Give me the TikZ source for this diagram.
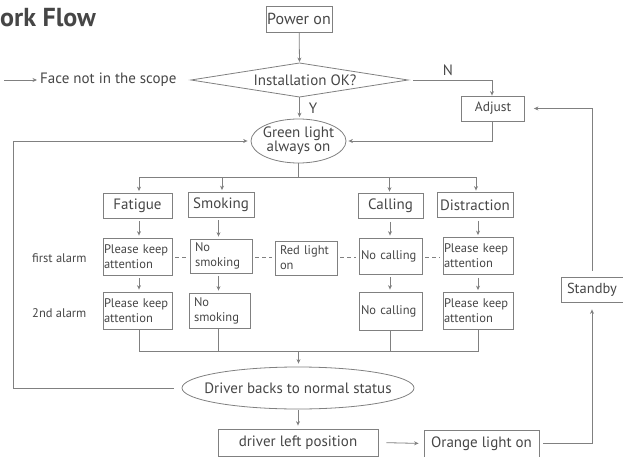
\documentclass[tikz,border=0pt]{standalone}
\usepackage{fontspec}
\setmainfont{PT Sans}
\usetikzlibrary{arrows.meta,shapes.geometric}
\definecolor{ln}{RGB}{128,128,128}
\definecolor{tx}{RGB}{70,70,70}
\newcommand\myfs[2]{\fontsize{#1}{#2}\selectfont}
\newcommand\nowid[1]{\makebox[0pt][c]{#1}}
\begin{document}
\begin{tikzpicture}[x=1pt,y=-1pt,
  every node/.style={text=tx},
  wire/.style={draw=ln,line width=0.8pt},
  arr/.style={wire,-{Stealth[length=4.5pt,width=4pt]}},
  dsh/.style={wire,dash pattern=on 4pt off 3pt,shorten <=3pt,shorten >=3pt},
  cat/.style={draw=ln,line width=0.8pt,minimum height=25pt,inner sep=0pt,font=\myfs{15}{17}},
  alm/.style={draw=ln,line width=0.8pt,align=left,minimum height=37pt,inner ysep=0pt,font=\myfs{12.5}{15}},
  ell/.style={draw=ln,line width=0.8pt,ellipse,inner sep=0pt},
  lbl/.style={font=\myfs{15}{16}},
  sml/.style={font=\myfs{12.5}{14}}]
\useasboundingbox (0,0) rectangle (623,457);

% title
\node[anchor=base west,inner sep=0pt,font=\bfseries\myfs{26}{28}] (title) at (0,27) {ork Flow};

% top part
\node[cat,font=\myfs{16}{18},minimum width=66pt,minimum height=26pt] (power) at (299,19) {Power on};
\coordinate (dt) at (299.5,63);
\coordinate (dr) at (408,80);
\coordinate (db) at (299.5,97);
\coordinate (dl) at (191,80);
\draw[wire] (dl) -- (dt) -- (dr) -- (db) -- cycle;
\node[lbl] (dia) at (305,80) {Installation OK?};
\draw[arr,shorten >=1pt] (power) -- (dt);

\coordinate (fa) at (4,80);
\node[lbl,anchor=west,inner sep=0pt] (face) at (40,80) {Face not in the scope};
\draw[arr,shorten >=3pt] (fa) -- (face.west);

\node[cat,font=\myfs{13.5}{15},minimum width=63pt] (adjust) at (493,108.5) {Adjust};
\coordinate (nc) at (492,80);
\draw[arr,shorten <=5pt] (dr) -- (nc) -- (adjust.north -| nc);
\node[lbl] (nlab) at (448,70) {N};

\node[ell,font=\myfs{15}{16},minimum width=95pt,minimum height=44pt] (green) at (298.5,141)
  {\nowid{\begin{tabular}{@{}c@{}}Green light\\[-2pt]always on\end{tabular}}};
\draw[arr,shorten >=1.5pt] (db) -- (green.north -| db);
\node[lbl] (ylab) at (313,108) {Y};
\draw[arr,shorten >=2pt] (adjust.south -| nc) |- (green.east);

% categories
\coordinate (br) at (298.5,177.5);
\draw[wire] (green.south) -- (br);
\node[cat,minimum width=69pt] (fat) at (137.5,205.5) {Fatigue};
\node[cat,minimum width=66pt] (smk) at (221,204.5) {Smoking};
\node[cat,minimum width=65pt] (cal) at (390.5,206) {Calling};
\node[cat,minimum width=76pt] (dis) at (475,205) {Distraction};
\coordinate (b1) at (139,177.5);
\coordinate (b2) at (222,177.5);
\coordinate (b3) at (389.5,177.5);
\coordinate (b4) at (476,177.5);
\draw[wire] (b1) -- (b4);
\draw[arr,shorten >=1.5pt] (b1) -- (b1 |- fat.north);
\draw[arr,shorten >=1.5pt] (b2) -- (b2 |- smk.north);
\draw[arr,shorten >=1.5pt] (b3) -- (b3 |- cal.north);
\draw[arr,shorten >=1.5pt] (b4) -- (b4 |- dis.north);

% first alarm row
\node[sml,anchor=west,inner sep=0pt] (fa1) at (32,258) {first alarm};
\node[alm,text width=67pt,inner xsep=1pt] (pk1) at (137.5,256.5) {Please keep\\attention};
\node[alm,text width=52pt,inner xsep=5pt,minimum height=34pt] (ns1) at (221,256) {No\\smoking};
\node[alm,text width=52pt,inner xsep=5pt,minimum height=34pt] (red) at (306,258) {Red light\\on};
\node[alm,text width=59pt,inner xsep=2pt,minimum height=36pt] (nc1) at (390.5,256) {No calling};
\node[alm,text width=68pt,inner xsep=1pt] (pk4) at (478,256) {Please keep\\attention};

% second alarm row
\node[sml,anchor=west,inner sep=0pt] (sa) at (32,313) {2nd alarm};
\node[alm,text width=67pt,inner xsep=1pt] (pk2) at (137.5,310.5) {Please keep\\attention};
\node[alm,text width=51pt,inner xsep=5pt,minimum height=35pt] (ns2) at (219.5,310.5) {No\\smoking};
\node[alm,text width=59pt,inner xsep=2pt,minimum height=38pt] (nc2) at (390.5,311) {No calling};
\node[alm,text width=68pt,inner xsep=1pt] (pk5) at (478,311) {Please keep\\attention};

% column arrows
\coordinate (c1) at (139,0);
\coordinate (c2) at (218.5,0);
\coordinate (c3) at (390,0);
\coordinate (c4) at (478,0);
\draw[arr,shorten <=3pt,shorten >=2pt] (c1 |- fat.south) -- (c1 |- pk1.north);
\draw[arr,shorten <=3pt,shorten >=2pt] (c2 |- smk.south) -- (c2 |- ns1.north);
\draw[arr,shorten <=3pt,shorten >=2pt] (c3 |- cal.south) -- (c3 |- nc1.north);
\draw[arr,shorten <=3pt,shorten >=2pt] (c4 |- dis.south) -- (c4 |- pk4.north);
\draw[arr,shorten <=3pt,shorten >=2pt] (c1 |- pk1.south) -- (c1 |- pk2.north);
\draw[arr,shorten <=3pt,shorten >=2pt] (c2 |- ns1.south) -- (c2 |- ns2.north);
\draw[arr,shorten <=3pt,shorten >=2pt] (c3 |- nc1.south) -- (c3 |- nc2.north);
\draw[arr,shorten <=3pt,shorten >=2pt] (c4 |- pk4.south) -- (c4 |- pk5.north);

% dashed links
\coordinate (dy) at (0,257);
\draw[dsh] (pk1.east |- dy) -- (ns1.west |- dy);
\draw[dsh] (ns1.east |- dy) -- (red.west |- dy);
\draw[dsh] (red.east |- dy) -- (nc1.west |- dy);
\draw[dsh] (nc1.east |- dy) -- (pk4.west |- dy);

% merge
\coordinate (my) at (0,351);
\draw[wire] (c1 |- pk2.south) -- (c1 |- my) -- (c4 |- my) -- (c4 |- pk5.south);
\draw[wire] (c2 |- ns2.south) -- (c2 |- my);
\draw[wire] (c3 |- nc2.south) -- (c3 |- my);
\coordinate (mc) at (298.5,351);

\node[ell,lbl,minimum width=232pt,minimum height=42pt] (drv) at (298,388) {\nowid{Driver backs to normal status}};
\draw[arr,shorten >=3pt] (mc) -- (mc |- drv.north);

% left loop
\coordinate (ll) at (13,388);
\draw[arr,shorten <=8pt,shorten >=3pt] (drv.west) -- (ll) |- (green.west);

% bottom
\node[cat,lbl,minimum width=160pt,minimum height=27pt] (dlp) at (298,442.5) {driver left position};
\draw[arr,shorten <=1pt,shorten >=3pt] (drv.south) -- (dlp.north);
\node[cat,lbl,minimum width=115pt,minimum height=27pt] (orange) at (481.5,443.5) {Orange light on};
\draw[arr,shorten <=8pt,shorten >=5pt] (dlp.east) -- (orange.west);

\node[cat,font=\myfs{14.5}{16},minimum width=62pt] (standby) at (592,289.5) {Standby};
\draw[arr,shorten <=4pt,shorten >=7pt] (orange.east) -| (standby.south);
\draw[arr,shorten <=6pt,shorten >=9pt] (standby.north) |- (adjust.east);
\end{tikzpicture}
\end{document}
